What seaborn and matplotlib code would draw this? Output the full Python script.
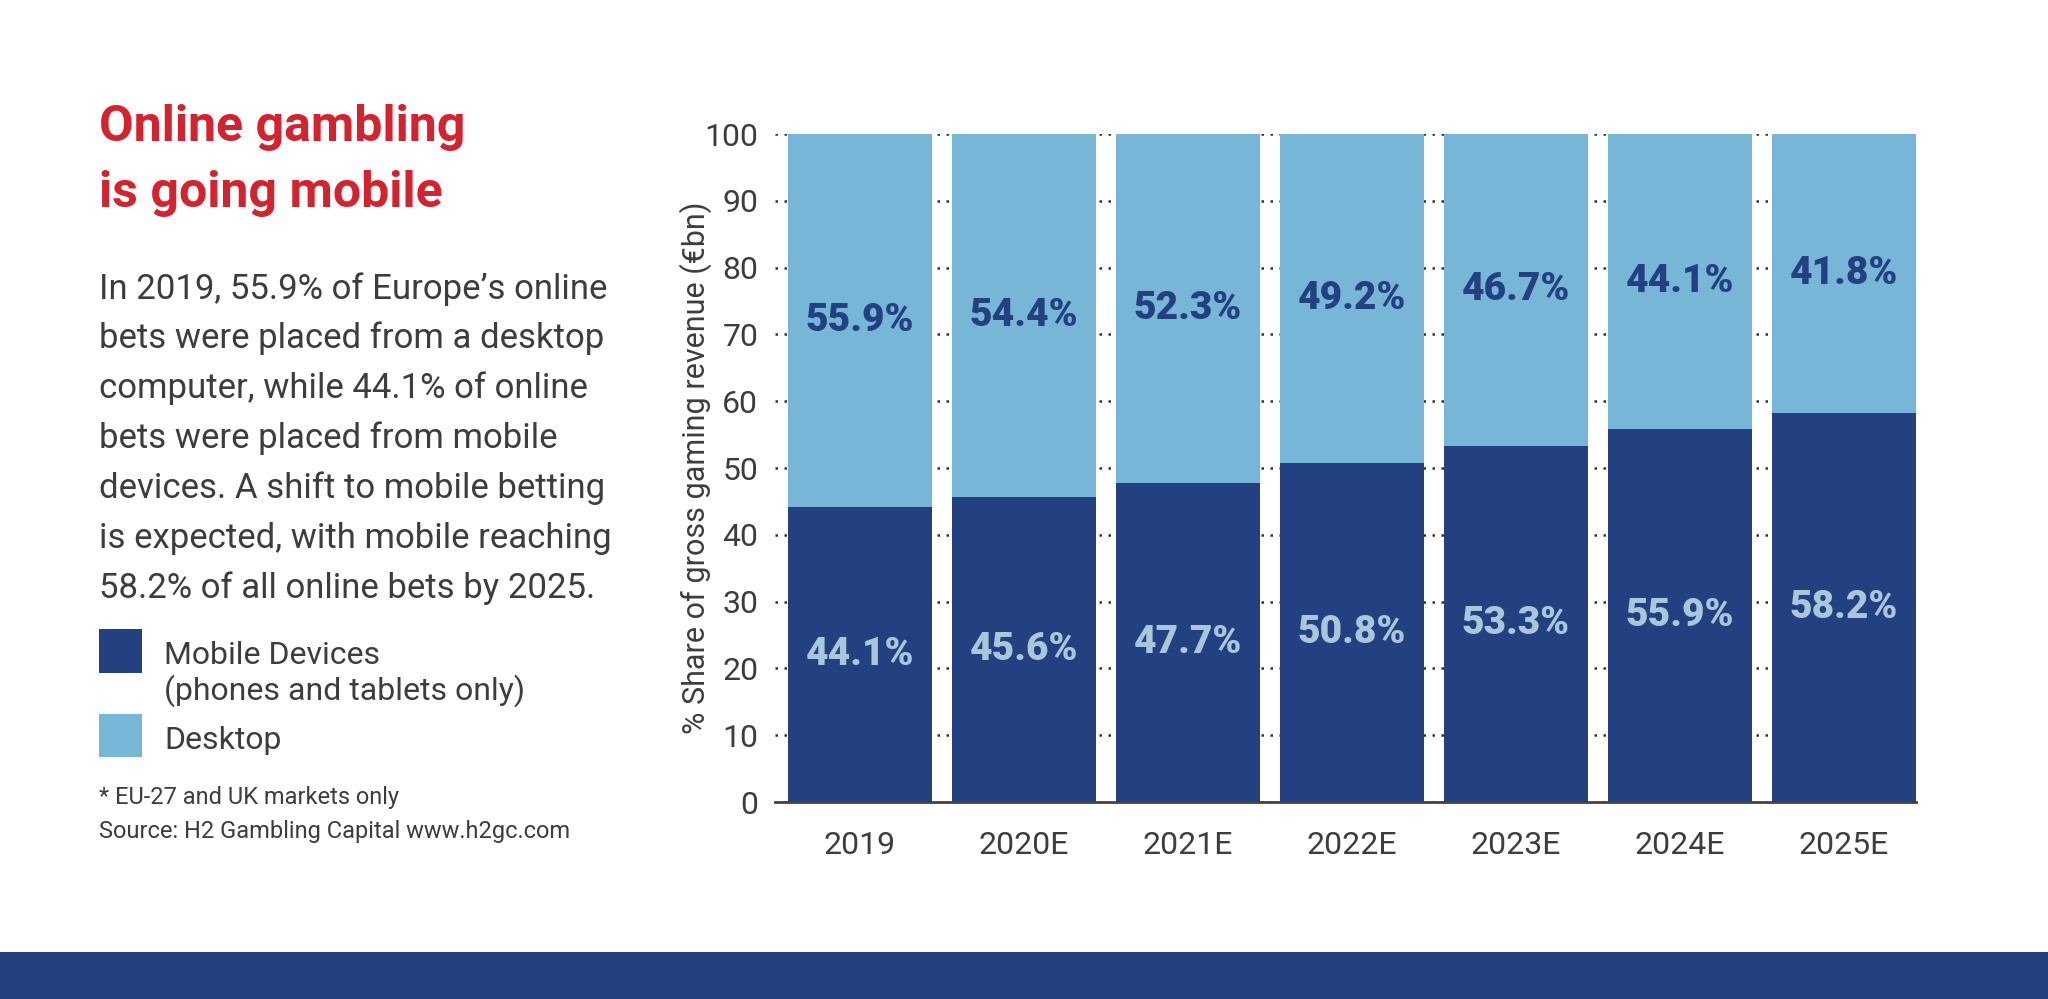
import matplotlib
matplotlib.use("Agg")
import matplotlib.pyplot as plt
from matplotlib.patches import Rectangle
import seaborn as sns
import pandas as pd

# data
years = ["2019", "2020E", "2021E", "2022E", "2023E", "2024E", "2025E"]
mobile = [44.1, 45.6, 47.7, 50.8, 53.3, 55.9, 58.2]
desktop = [55.9, 54.4, 52.3, 49.2, 46.7, 44.1, 41.8]
y_ticks = [0, 10, 20, 30, 40, 50, 60, 70, 80, 90, 100]

title_lines = ["Online gambling", "is going mobile"]
body_lines = [
    "In 2019, 55.9% of Europe\u2019s online",
    "bets were placed from a desktop",
    "computer, while 44.1% of online",
    "bets were placed from mobile",
    "devices. A shift to mobile betting",
    "is expected, with mobile reaching",
    "58.2% of all online bets by 2025.",
]
legend_labels = ["Mobile Devices", "(phones and tablets only)", "Desktop"]
notes = ["* EU-27 and UK markets only", "Source: H2 Gambling Capital www.h2gc.com"]

dark = "#234080"
light = "#78b6d8"
red = "#d4222f"
grey = "#3d3d3d"
label_light = "#a9c6db"

sns.set_style("white")
plt.rcParams["font.family"] = ["Roboto", "DejaVu Sans"]

df = pd.DataFrame({"year": years, "mobile": mobile, "desktop": desktop})
df["total"] = df["mobile"] + df["desktop"]

W, H = 2048, 999
fig = plt.figure(figsize=(20.48, 9.99), dpi=100)
fig.patch.set_facecolor("white")
ax = fig.add_axes([775 / W, 1 - 802 / H, (1916 - 775) / W, (802 - 134) / H])

# stacked bars: full bar (desktop colour) then mobile part over it
sns.barplot(data=df, x="year", y="total", color=light, width=0.878,
            saturation=1, linewidth=0, ax=ax)
sns.barplot(data=df, x="year", y="mobile", color=dark, width=0.878,
            saturation=1, linewidth=0, ax=ax)

ax.bar_label(ax.containers[1], labels=[f"{v:.1f}%" for v in mobile],
             label_type="center", color=label_light, fontsize=28, fontweight="black")
for i, (m, d) in enumerate(zip(mobile, desktop)):
    ax.text(i, m + d / 2, f"{d:.1f}%", ha="center", va="center",
            color=dark, fontsize=28, fontweight="black")

ax.set_xlim(-0.518, 6.439)
ax.set_ylim(0, 100)
ax.set_yticks(y_ticks)
ax.set_xlabel("")
ax.set_ylabel("% Share of gross gaming revenue (\u20acbn)", fontsize=22, color=grey)
ax.yaxis.set_label_coords((712 - 775) / 1141, 0.5)

ax.yaxis.grid(True, color="#333333", linestyle=(0, (1, 2.6)), linewidth=1.8)
ax.xaxis.grid(False)
ax.set_axisbelow(True)
for s in ["top", "right", "left"]:
    ax.spines[s].set_visible(False)
ax.spines["bottom"].set_color("#444444")
ax.spines["bottom"].set_linewidth(2)
ax.tick_params(axis="y", length=0, pad=12, labelsize=23, labelcolor=grey)
ax.tick_params(axis="x", length=0, pad=21, labelsize=23, labelcolor=grey)

# left-hand text block
def px(x, y):
    return x / W, 1 - y / H

for k, line in enumerate(title_lines):
    fig.text(*px(99, 141 + 66 * k), line, color=red, fontsize=36,
             fontweight="bold", va="baseline", ha="left")
for k, line in enumerate(body_lines):
    fig.text(*px(99, 298.5 + 49.9 * k), line, color=grey, fontsize=25,
             va="baseline", ha="left")

# legend
fig.add_artist(Rectangle(px(99, 673), 43 / W, 44 / H, transform=fig.transFigure,
                         facecolor=dark, edgecolor="none"))
fig.add_artist(Rectangle(px(99, 757), 43 / W, 43 / H, transform=fig.transFigure,
                         facecolor=light, edgecolor="none"))
fig.text(*px(164, 664), legend_labels[0], color=grey, fontsize=23, va="baseline")
fig.text(*px(164, 700), legend_labels[1], color=grey, fontsize=23, va="baseline")
fig.text(*px(164, 749), legend_labels[2], color=grey, fontsize=23, va="baseline")

fig.text(*px(99, 804), notes[0], color=grey, fontsize=17, va="baseline")
fig.text(*px(99, 838), notes[1], color=grey, fontsize=17, va="baseline")

# bottom band
fig.add_artist(Rectangle((0, 0), 1, 47 / H, transform=fig.transFigure,
                         facecolor=dark, edgecolor="none"))

fig.savefig("out.png", dpi=100)
